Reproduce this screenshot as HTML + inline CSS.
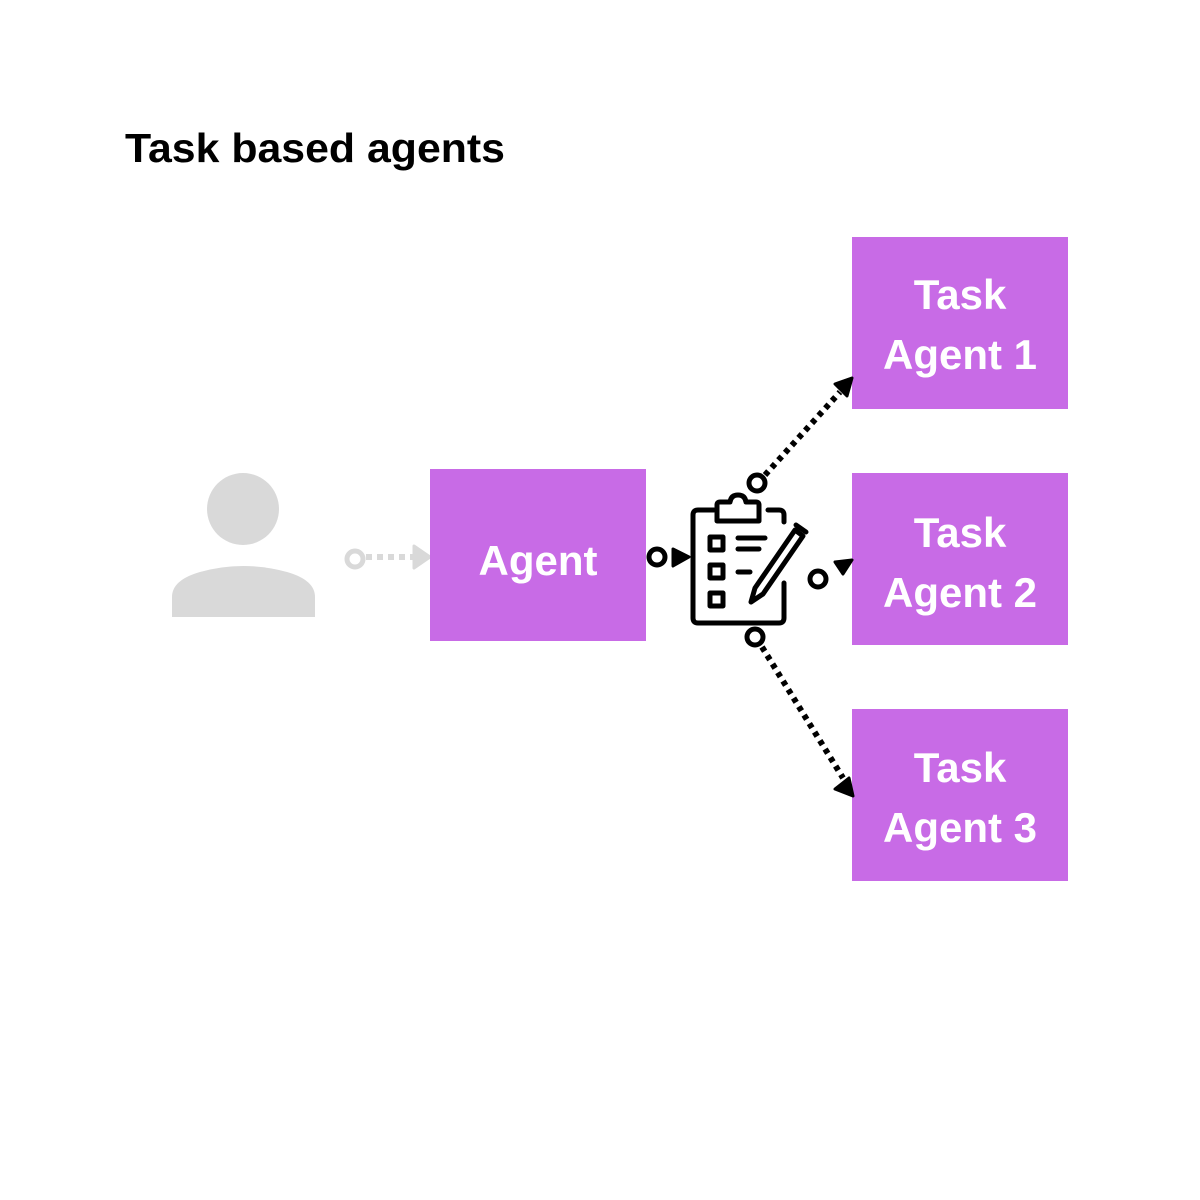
<!DOCTYPE html>
<html><head><meta charset="utf-8"><style>
html,body{margin:0;padding:0;background:#fff;}
svg{display:block;}
</style></head><body>
<svg width="1200" height="1200" viewBox="0 0 1200 1200" xmlns="http://www.w3.org/2000/svg">
<rect width="1200" height="1200" fill="#fff"/>
<text x="125" y="162" font-family="Liberation Sans, sans-serif" font-weight="bold" font-size="41" fill="#000" textLength="380" lengthAdjust="spacingAndGlyphs">Task based agents</text>

<!-- person -->
<circle cx="243" cy="509" r="36" fill="#d9d9d9"/>
<path d="M172 617 L172 597 Q172 580 200 572 Q243 560 287 572 Q315 580 315 597 L315 617 Z" fill="#d9d9d9"/>
<!-- grey connector -->
<circle cx="355" cy="559" r="8" fill="none" stroke="#d9d9d9" stroke-width="5"/>
<line x1="366" y1="557" x2="414" y2="557" stroke="#d9d9d9" stroke-width="6" stroke-dasharray="6 5"/>
<path d="M414 546 L430 557 L414 568 Z" fill="#d9d9d9" stroke="#d9d9d9" stroke-width="3" stroke-linejoin="round"/>

<!-- boxes -->
<g fill="#c86be6">
<rect x="430" y="469" width="216" height="172"/>
<rect x="852" y="237" width="216" height="172"/>
<rect x="852" y="473" width="216" height="172"/>
<rect x="852" y="709" width="216" height="172"/>
</g>
<g font-family="Liberation Sans, sans-serif" font-weight="bold" font-size="42" fill="#fff" text-anchor="middle">
<text x="538" y="575">Agent</text>
<text x="960" y="309">Task</text><text x="960" y="369">Agent 1</text>
<text x="960" y="547">Task</text><text x="960" y="607">Agent 2</text>
<text x="960" y="782">Task</text><text x="960" y="842">Agent 3</text>
</g>

<!-- clipboard -->
<g fill="none" stroke="#000" stroke-width="5" stroke-linejoin="round" stroke-linecap="round">
<path d="M714 510 L698 510 Q693 510 693 515 L693 618 Q693 623 698 623 L779 623 Q784 623 784 618 L784 583"/>
<path d="M768 510 L779 510 Q784 510 784 515 L784 522"/>
<path d="M717 521 L717 505 Q717 502 720 502 L730 502 Q731 495 738 495 Q745 495 746 502 L756 502 Q759 502 759 505 L759 521 Z"/>
<rect x="710" y="537" width="13" height="13" stroke-linecap="butt"/>
<rect x="710" y="565" width="13" height="13" stroke-linecap="butt"/>
<rect x="710" y="593" width="13" height="13" stroke-linecap="butt"/>
<line x1="738" y1="538" x2="765" y2="538"/>
<line x1="738" y1="549" x2="759" y2="549"/>
<line x1="738" y1="572" x2="750" y2="572"/>
<path d="M751 602 L755 588 L795 530 L803 536 L763 594 Z"/>
<line x1="796" y1="525" x2="806" y2="532"/>
</g>

<!-- black connectors -->
<g fill="none" stroke="#000" stroke-width="5">
<circle cx="657" cy="557" r="8"/>
<circle cx="757" cy="483" r="8"/>
<circle cx="818" cy="579" r="8"/>
<circle cx="755" cy="637" r="8"/>
</g>
<g stroke="#000" stroke-width="6" stroke-dasharray="5 5">
<line x1="765" y1="475" x2="840" y2="392"/>
<line x1="762" y1="647" x2="843" y2="778"/>
</g>
<g fill="#000" stroke="#000" stroke-width="3" stroke-linejoin="round">
<path d="M673 549 L689 557 L673 566 Z"/>
<path d="M852 378 L835 384 L847 396 Z"/>
<path d="M852 560 L835 562 L843 574 Z"/>
<path d="M853 796 L835 789 L849 778 Z"/>
</g>
</svg>
</body></html>
